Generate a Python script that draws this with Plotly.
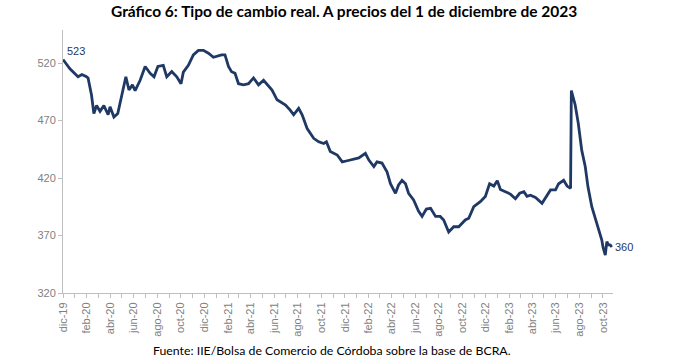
import plotly.graph_objects as go

dates = [
    "2019-12-01", "2019-12-19", "2020-01-09", "2020-01-19", "2020-01-31", "2020-02-04",
    "2020-02-13", "2020-02-19", "2020-02-26", "2020-03-06", "2020-03-16", "2020-03-27",
    "2020-04-01", "2020-04-11", "2020-04-21", "2020-05-01", "2020-05-12", "2020-05-20",
    "2020-05-29", "2020-06-05", "2020-06-18", "2020-07-01", "2020-07-14", "2020-07-24",
    "2020-08-03", "2020-08-17", "2020-08-26", "2020-09-08", "2020-09-21", "2020-10-02",
    "2020-10-08", "2020-10-21", "2020-11-03", "2020-11-16", "2020-11-29", "2020-12-12",
    "2020-12-25", "2021-01-15", "2021-01-24", "2021-02-02", "2021-02-10", "2021-02-19",
    "2021-02-28", "2021-03-13", "2021-03-26", "2021-04-08", "2021-04-21", "2021-05-04",
    "2021-05-17", "2021-05-26", "2021-06-08", "2021-06-21", "2021-06-30", "2021-07-12",
    "2021-07-21", "2021-08-03", "2021-08-12", "2021-08-25", "2021-09-11", "2021-09-24",
    "2021-10-07", "2021-10-14", "2021-10-24", "2021-11-11", "2021-11-24", "2021-12-07",
    "2021-12-20", "2022-01-06", "2022-01-23", "2022-02-01", "2022-02-14", "2022-02-22",
    "2022-03-07", "2022-03-20", "2022-03-29", "2022-04-11", "2022-04-19", "2022-04-28",
    "2022-05-07", "2022-05-15", "2022-05-28", "2022-06-10", "2022-06-19", "2022-06-30",
    "2022-07-11", "2022-07-24", "2022-08-05", "2022-08-14", "2022-08-27", "2022-09-09",
    "2022-09-22", "2022-10-09", "2022-10-18", "2022-10-31", "2022-11-17", "2022-11-30",
    "2022-12-11", "2022-12-22", "2022-12-31", "2023-01-08", "2023-01-21", "2023-02-03",
    "2023-02-16", "2023-02-27", "2023-03-10", "2023-03-18", "2023-03-27", "2023-04-09",
    "2023-04-26", "2023-05-09", "2023-05-18", "2023-05-31", "2023-06-08", "2023-06-21",
    "2023-06-30", "2023-07-09", "2023-07-11", "2023-07-21", "2023-07-29", "2023-08-07",
    "2023-08-16", "2023-08-23", "2023-09-02", "2023-09-15", "2023-09-28", "2023-10-01",
    "2023-10-07", "2023-10-11", "2023-10-15", "2023-10-20", "2023-10-24",
]

tcr = [
    523, 515, 508, 510, 508, 507,
    492, 476, 483, 478, 483, 475,
    482, 473, 476, 491, 508, 496.5,
    501, 496, 505, 517, 511, 508,
    517, 518, 508, 512.5, 508, 502,
    512, 518, 527, 531, 531, 528.5,
    525, 527, 527, 517, 512.5, 511,
    502, 501, 502, 507, 501, 505,
    499.5, 496.5, 488, 485, 483.5, 479,
    475, 480.6, 475, 463, 454.5, 451.5,
    450, 451.5, 443, 440, 434, 435,
    436, 437.5, 441.5, 435.6, 430, 434,
    433, 425.5, 415, 406.7, 414, 418,
    415, 406.7, 401, 391, 386.6, 393,
    393.6, 386.6, 386.6, 383.5, 373, 377.6,
    377.6, 383.5, 385, 395, 399.4, 404,
    415, 413, 417.7, 410, 408, 406,
    402, 406.7, 408, 404, 405, 403,
    398, 405, 409.6, 409.6, 415, 418,
    413, 411, 496, 483.5, 467.5, 444,
    430, 412.5, 395, 380.6, 366, 360,
    353, 364.7, 362, 361.7, 360,
]

tick_dates = [
    "2019-12-01", "2020-02-01", "2020-04-01", "2020-06-01", "2020-08-01", "2020-10-01",
    "2020-12-01", "2021-02-01", "2021-04-01", "2021-06-01", "2021-08-01", "2021-10-01",
    "2021-12-01", "2022-02-01", "2022-04-01", "2022-06-01", "2022-08-01", "2022-10-01",
    "2022-12-01", "2023-02-01", "2023-04-01", "2023-06-01", "2023-08-01", "2023-10-01",
]
tick_labels = [
    "dic-19", "feb-20", "abr-20", "jun-20", "ago-20", "oct-20",
    "dic-20", "feb-21", "abr-21", "jun-21", "ago-21", "oct-21",
    "dic-21", "feb-22", "abr-22", "jun-22", "ago-22", "oct-22",
    "dic-22", "feb-23", "abr-23", "jun-23", "ago-23", "oct-23",
]
y_ticks = [320, 370, 420, 470, 520]

title_text = "Gráfico 6: Tipo de cambio real. A precios del 1 de diciembre de 2023"
source_text = "Fuente: IIE/Bolsa de Comercio de Córdoba sobre la base de BCRA."

line_color = "#1F3864"
axis_color = "#BFBFBF"
label_color = "#7F7F7F"
label_font = "Liberation Sans, Arial"
text_font = "Lato, Open Sans"

fig = go.Figure()
fig.add_trace(go.Scatter(
    x=dates, y=tcr, mode="lines",
    line=dict(color=line_color, width=2.8),
    hoverinfo="x+y", showlegend=False,
))

fig.update_layout(
    width=699, height=364,
    margin=dict(l=63, r=86, t=30, b=71),
    paper_bgcolor="white", plot_bgcolor="white",
    annotations=[
        dict(x=dates[0], y=tcr[0], text=str(tcr[0]), showarrow=False,
             xanchor="left", yanchor="bottom", xshift=2, yshift=1,
             font=dict(family=label_font, size=11, color=line_color)),
        dict(x=dates[-1], y=tcr[-1], text=str(int(tcr[-1])), showarrow=False,
             xanchor="left", yanchor="middle", xshift=1,
             font=dict(family=label_font, size=11, color=line_color)),
        dict(xref="paper", yref="paper", x=0.511, y=1, yshift=30, yanchor="top",
             xanchor="center", showarrow=False,
             text="<b>" + title_text + "</b>",
             font=dict(family=text_font, size=15.5, color="#000000")),
        dict(xref="paper", yref="paper", x=0.489, y=0, yshift=-48, yanchor="top",
             xanchor="center", showarrow=False, text=source_text,
             font=dict(family=text_font, size=12.3, color="#000000")),
    ],
    xaxis=dict(
        type="date",
        range=["2019-12-01", "2023-10-27"],
        tickvals=tick_dates, ticktext=tick_labels, tickangle=-90,
        showgrid=False, zeroline=False,
        showline=True, linecolor=axis_color, linewidth=1,
        ticks="outside", ticklen=4, tickcolor=axis_color,
        minor=dict(ticks="outside", ticklen=4, tickcolor=axis_color,
                   dtick="M1", tick0="2019-12-01", showgrid=False),
        tickfont=dict(family=label_font, size=11, color=label_color),
        fixedrange=True,
    ),
    yaxis=dict(
        range=[320, 548.7],
        tickvals=y_ticks,
        showgrid=False, zeroline=False,
        showline=True, linecolor=axis_color, linewidth=1,
        ticks="outside", ticklen=4, tickcolor=axis_color,
        tickfont=dict(family=label_font, size=11, color=label_color),
        fixedrange=True,
    ),
)

fig.write_html("out.html",
               config={"displayModeBar": False},
               post_script="document.body.style.margin='0';document.body.style.padding='0';")
